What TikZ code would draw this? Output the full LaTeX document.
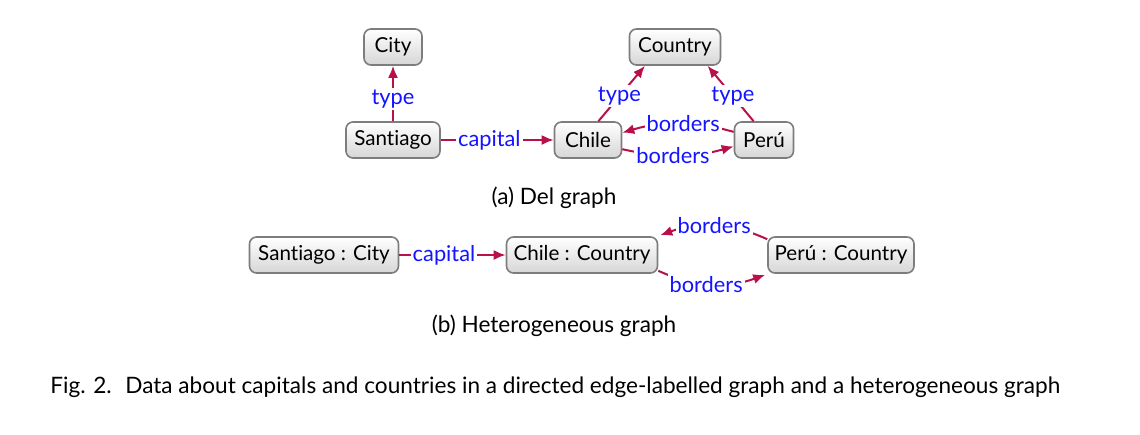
\documentclass[tikz,border=0pt]{standalone}
\usepackage{fontspec}
\setmainfont[RawFeature=-liga]{Lato}
\usetikzlibrary{arrows.meta,calc}
\definecolor{edgecol}{RGB}{185,15,75}
\definecolor{lblcol}{RGB}{20,20,255}
\definecolor{boxline}{RGB}{125,125,125}
\begin{document}
\begin{tikzpicture}[x=0.5pt,y=-0.5pt,
  ent/.style={draw=boxline, line width=0.8pt, rounded corners=3.5pt, top color=white, bottom color=black!16,
    minimum height=18pt, inner xsep=1pt, inner ysep=0pt, font=\fontsize{10.3}{12}\selectfont},
  edge/.style={draw=edgecol, line width=1pt, -{Latex[length=6pt,width=5pt]}},
  lbl/.style={fill=white, text=lblcol, inner sep=1pt, font=\fontsize{10.9}{12}\selectfont},
  captext/.style={font=\fontsize{11.3}{13}\selectfont, inner sep=0pt}]
\useasboundingbox (0,0) rectangle (1140,434);
% (a) Del graph
\node[ent, minimum width=29pt] (city) at (393,47) {City};
\node[ent, minimum width=45.5pt] (country) at (675,47) {Country};
\node[ent, minimum width=47pt] (santiago) at (393,140) {Santiago};
\node[ent, minimum width=33.5pt] (chile) at (588,140) {Chile};
\node[ent, minimum width=29.5pt] (peru) at (764,140) {Perú};
\draw[edge] (santiago) -- node[lbl, pos=0.4]{type} (city);
\draw[edge] (santiago) -- node[lbl, pos=0.43]{capital} (chile);
\draw[edge] (chile.61) -- node[lbl, pos=0.45]{type} (country.212);
\draw[edge] (peru.119) -- node[lbl, pos=0.45]{type} (country.330);
\draw[edge] (peru.165) to[bend right=16] node[lbl, pos=0.45]{borders} (chile.12);
\draw[edge] (chile.-15) to[bend right=14] node[lbl, pos=0.45]{borders} (peru.192);
\node[captext] (capa) at (554,198) {(a) Del graph};
% (b) Heterogeneous graph
\node[ent, minimum width=74.5pt] (santiago2) at (324,255) {Santiago : City};
\node[ent, minimum width=75.5pt] (chile2) at (582,255) {Chile : Country};
\node[ent, minimum width=73pt] (peru2) at (841,255) {Perú : Country};
\draw[edge] (santiago2) -- node[lbl, pos=0.42]{capital} (chile2);
\draw[edge] ($(peru2.north west)+(0,3)$) to[bend right=22] node[lbl, pos=0.5]{borders} ($(chile2.north east)+(2,-1)$);
\draw[edge] ($(chile2.south east)+(0,-3)$) to[bend right=22] node[lbl, pos=0.45]{borders} ($(peru2.south west)+(-2,1)$);
\node[captext] (capb) at (554,326) {(b) Heterogeneous graph};
% Figure caption
\node[captext, anchor=base west] (figcap) at (50,393) {Fig. 2.\hspace{0.6em}Data about capitals and countries in a directed edge-labelled graph and a heterogeneous graph};
\end{tikzpicture}
\end{document}
